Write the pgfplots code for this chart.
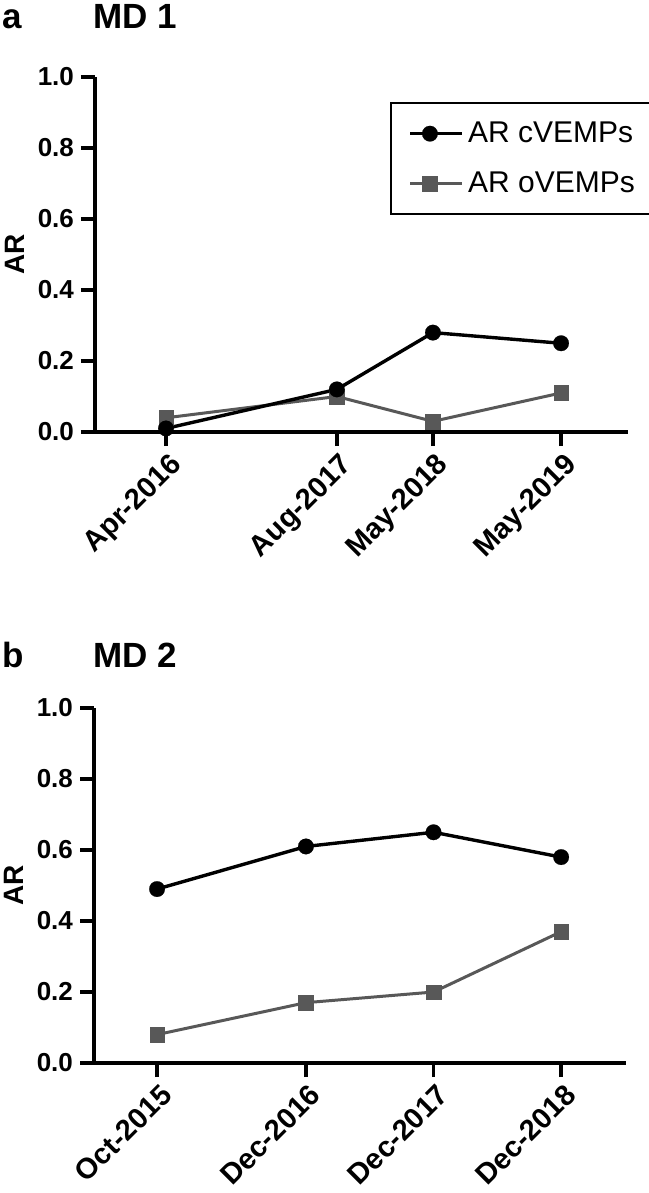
\documentclass[border=0pt]{standalone}
\usepackage{pgfplots}
\pgfplotsset{compat=1.18}
\usepackage{fontspec}
\setmainfont{Liberation Sans}
\definecolor{ogray}{RGB}{88,88,88}

\pgfplotsset{
  cv/.style={black, line width=1.7pt, mark=*, mark size=3.9pt, mark options={solid, fill=black, draw=black, line width=0.1pt}},
  ov/.style={ogray, line width=1.5pt, mark=square*, mark size=3.7pt, mark options={solid, fill=ogray, draw=ogray, line width=0.1pt}},
  mdstyle/.style={
    scale only axis,
    height=177.5pt,
    ymin=0, ymax=1,
    ytick={0,0.2,0.4,0.6,0.8,1.0},
    axis x line*=bottom, axis y line*=left,
    axis line style={line width=1.8pt, -},
    tick style={line width=1.8pt, black},
    major tick length=7pt,
    tick align=outside,
    clip=false,
    /pgf/number format/fixed,
    /pgf/number format/fixed zerofill,
    /pgf/number format/precision=1,
    /pgf/number format/assume math mode=true,
    yticklabel style={font=\bfseries\fontsize{13}{15}\selectfont},
    xticklabel style={font=\bfseries\fontsize{14.5}{17}\selectfont, rotate=45, anchor=north east, inner sep=1pt, yshift=-1.5pt},
    ylabel={AR},
    ylabel style={at={(rel axis cs:-0.15,0.5)}, anchor=center, font=\bfseries\fontsize{14}{16}\selectfont},
  }
}

\begin{document}
\begin{tikzpicture}
\path[use as bounding box] (0,0) rectangle (324pt,-596.5pt);

\node[anchor=base west, font=\bfseries\fontsize{17.5}{20}\selectfont, inner sep=0pt] at (1pt,-14.5pt) {a};
\node[anchor=base west, font=\bfseries\fontsize{17.5}{20}\selectfont, inner sep=0pt] at (46.5pt,-14.5pt) {MD 1};
\node[anchor=base west, font=\bfseries\fontsize{17.5}{20}\selectfont, inner sep=0pt] at (1pt,-333.5pt) {b};
\node[anchor=base west, font=\bfseries\fontsize{17.5}{20}\selectfont, inner sep=0pt] at (46.5pt,-333.5pt) {MD 2};

\begin{axis}[mdstyle,
  at={(47.5pt,-216pt)}, anchor=south west,
  width=266.5pt,
  xmin=-6.65, xmax=43.27,
  xtick={0,16,25,37},
  xticklabels={Apr-2016,Aug-2017,May-2018,May-2019},
  reverse legend,
  legend style={at={(0.553,0.93)}, anchor=north west, draw=black, line width=1pt,
    font=\fontsize{15}{17}\selectfont, inner xsep=9pt, inner ysep=7.5pt, row sep=9pt,
    cells={anchor=west}},
  legend image code/.code={\draw[#1, mark repeat=2, mark phase=2] plot coordinates {(0pt,0pt) (9.75pt,0pt) (19.5pt,0pt)};
    \path (19.5pt,0pt) -- (26pt,0pt);},
]
\addplot[ov] coordinates {(0,0.04) (16,0.10) (25,0.03) (37,0.11)};
\addlegendentry{AR oVEMPs}
\addplot[cv] coordinates {(0,0.01) (16,0.12) (25,0.28) (37,0.25)};
\addlegendentry{AR cVEMPs}
\end{axis}

\begin{axis}[mdstyle,
  at={(47pt,-531.5pt)}, anchor=south west,
  width=266pt,
  xmin=-5.93, xmax=44.1,
  xtick={0,14,26,38},
  xticklabels={Oct-2015,Dec-2016,Dec-2017,Dec-2018},
]
\addplot[ov] coordinates {(0,0.08) (14,0.17) (26,0.20) (38,0.37)};
\addplot[cv] coordinates {(0,0.49) (14,0.61) (26,0.65) (38,0.58)};
\end{axis}
\end{tikzpicture}
\end{document}
